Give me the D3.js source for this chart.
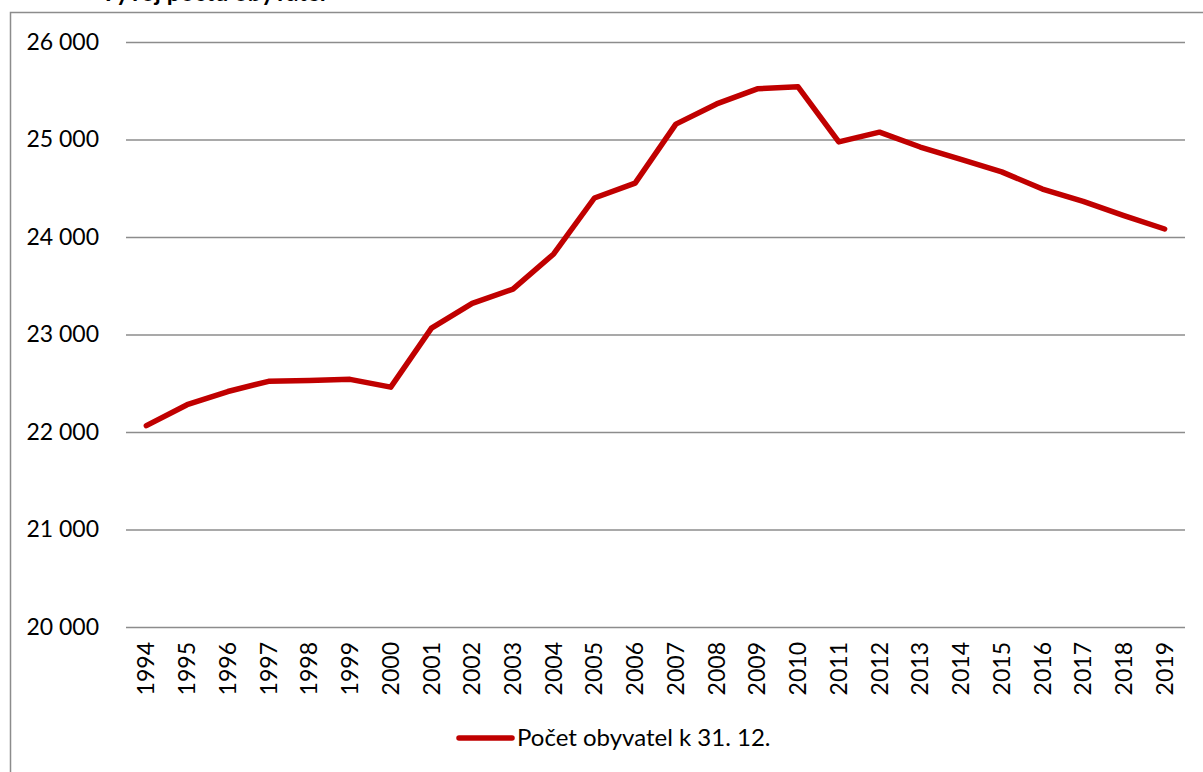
<!DOCTYPE html>
<html lang="cs">
<head>
<meta charset="UTF-8">
<title>Vývoj počtu obyvatel</title>
<style>
    body { margin: 0; background: #fff; }
    svg { display: block; font-family: Lato, "Open Sans", sans-serif; }
</style>
</head>
<body>
<svg id="chart" width="1203" height="772"></svg>
<script src="https://d3js.org/d3.v7.min.js"></script>
<script>
    // data
    const years = ["1994", "1995", "1996", "1997", "1998", "1999", "2000", "2001", "2002", "2003", "2004", "2005", "2006",
        "2007", "2008", "2009", "2010", "2011", "2012", "2013", "2014", "2015", "2016", "2017", "2018", "2019"];
    const population = [22065, 22280, 22415, 22520, 22528, 22540, 22460, 23065, 23320, 23465, 23826, 24400, 24552,
        25158, 25365, 25520, 25540, 24975, 25075, 24923, 24795, 24668, 24492, 24365, 24220, 24082];
    const yTicks = [20000, 21000, 22000, 23000, 24000, 25000, 26000];
    const seriesName = "Počet obyvatel k 31. 12.";
    const titleText = "Vývoj počtu obyvatel";

    const svg = d3.select("#chart");
    const red = "#c00000";
    const grid = "#8c8c8c";

    // chart frame (only left and top edges are inside the picture)
    svg.append("path")
        .attr("d", "M10.5,780 V12.5 H1210")
        .attr("fill", "none")
        .attr("stroke", grid)
        .attr("stroke-width", 1.5);

    // title, mostly cut off above the frame (as in the source image)
    svg.append("text")
        .attr("x", 100)
        .attr("y", 1)
        .attr("font-size", 24)
        .attr("font-weight", "bold")
        .text(titleText);

    const x = d3.scaleBand().domain(years).range([126, 1185]);
    const y = d3.scaleLinear().domain([20000, 26000]).range([627, 42]);

    // gridlines + y labels
    const yAxis = svg.append("g")
        .attr("transform", "translate(126,0)")
        .call(d3.axisLeft(y).tickValues(yTicks).tickSize(-(1185 - 126)).tickPadding(27)
            .tickFormat(d => d3.format(",")(d).replace(",", " ")));
    yAxis.select(".domain").remove();
    yAxis.selectAll("line").attr("stroke", grid).attr("stroke-width", 1.5);
    yAxis.selectAll("text").attr("font-size", 23).attr("fill", "#000")
        .attr("font-family", "Lato, sans-serif");

    // x labels, rotated
    svg.append("g").selectAll("text")
        .data(years)
        .join("text")
        .attr("transform", d => `translate(${x(d) + x.bandwidth() / 2},642) rotate(-90)`)
        .attr("text-anchor", "end")
        .attr("dy", "0.35em")
        .attr("font-size", 23)
        .text(d => d);

    const line = d3.line()
        .x((d, i) => x(years[i]) + x.bandwidth() / 2)
        .y(d => y(d));

    svg.append("path")
        .datum(population)
        .attr("d", line)
        .attr("fill", "none")
        .attr("stroke", red)
        .attr("stroke-width", 5.5)
        .attr("stroke-linejoin", "round")
        .attr("stroke-linecap", "round");

    // legend
    const legend = svg.append("g").attr("transform", "translate(457,738)");
    legend.append("line")
        .attr("x1", 2).attr("x2", 55)
        .attr("stroke", red).attr("stroke-width", 5.5).attr("stroke-linecap", "round");
    legend.append("text")
        .attr("x", 60)
        .attr("dy", "0.35em")
        .attr("font-size", 24)
        .text(seriesName);
</script>
</body>
</html>
